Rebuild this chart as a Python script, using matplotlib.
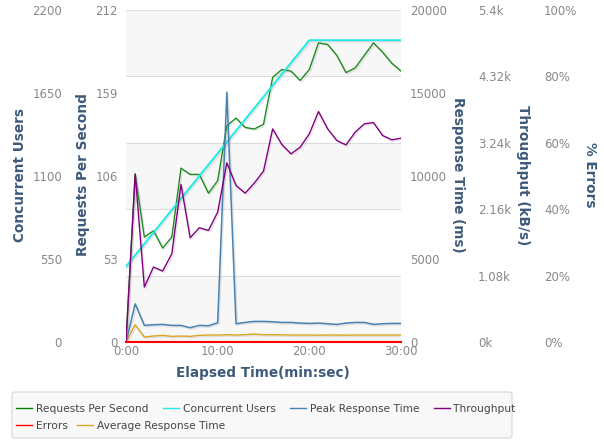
#!/usr/bin/env python3
import matplotlib
matplotlib.use("Agg")
import matplotlib.pyplot as plt
import matplotlib.patheffects as pe
from matplotlib.lines import Line2D
from matplotlib.patches import FancyBboxPatch

# elapsed minutes
minutes = list(range(31))

requests_per_second = [0, 107, 67, 71, 60, 67, 111, 107, 107, 95, 103, 138, 143, 137, 136, 139,
                       169, 174, 173, 167, 174, 191, 190, 183, 172, 175, 183, 191, 185, 178, 173]
concurrent_users = [500, 575, 650, 725, 800, 875, 950, 1025, 1100, 1175, 1250, 1325, 1400, 1475,
                    1550, 1625, 1700, 1775, 1850, 1925, 2000, 2000, 2000, 2000, 2000, 2000, 2000,
                    2000, 2000, 2000, 2000]
peak_response_ms = [0, 2300, 1000, 1040, 1060, 1000, 1000, 860, 1000, 980, 1160, 15050, 1100,
                    1180, 1240, 1240, 1220, 1180, 1180, 1140, 1120, 1140, 1100, 1060, 1140, 1180,
                    1180, 1060, 1100, 1120, 1120]
throughput_kbs = [0, 2735, 894, 1219, 1154, 1435, 2562, 1695, 1858, 1814, 2112, 2914, 2546, 2421,
                  2584, 2779, 3466, 3212, 3060, 3168, 3385, 3748, 3466, 3277, 3206, 3412, 3548,
                  3569, 3358, 3288, 3315]
errors_pct = [0] * 31
avg_response_ms = [0, 1040, 300, 360, 400, 340, 360, 340, 400, 420, 420, 440, 420, 440, 480, 440,
                   440, 430, 420, 420, 420, 410, 420, 420, 410, 420, 420, 420, 420, 420, 420]

rps_ticks = [0, 53, 106, 159, 212]
users_ticks = [0, 550, 1100, 1650, 2200]
rt_ticks = [0, 5000, 10000, 15000, 20000]
tp_ticks = [0, 1080, 2160, 3240, 4320, 5400]
tp_labels = ["0k", "1.08k", "2.16k", "3.24k", "4.32k", "5.4k"]
err_ticks = [0, 20, 40, 60, 80, 100]
x_ticks = [0, 10, 20, 30]
x_labels = ["0:00", "10:00", "20:00", "30:00"]

TICK_C = "#888888"
LABEL_C = "#3d5a7a"
PX = 72 / 100  # points per pixel
plt.rcParams["font.family"] = "DejaVu Sans"

fig = plt.figure(figsize=(6.04, 4.40), dpi=100)
L, R, B, T = 126 / 604, 401 / 604, 1 - 342 / 440, 1 - 10 / 440
ax = fig.add_axes([L, B, R - L, T - B])

ax_users = ax.twinx()
ax_rt = ax.twinx()
ax_tp = ax.twinx()
ax_err = ax.twinx()

shadow = [pe.SimpleLineShadow(offset=(1, -1), shadow_color="gray", alpha=0.2), pe.Normal()]

# background bands from the fifth-grid
ax.set_facecolor("white")
for i in range(5):
    if i % 2 == 0:
        ax.axhspan(i * 212 / 5, (i + 1) * 212 / 5, color="#f7f7f7", zorder=0, lw=0)
    ax.axhline((i + 1) * 212 / 5, color="#dddddd", lw=0.8, zorder=0.5)

for a in [ax, ax_users, ax_rt, ax_tp, ax_err]:
    for s in a.spines.values():
        s.set_visible(False)
    a.tick_params(length=0, colors=TICK_C, labelsize=8.5)

ax.plot(minutes, requests_per_second, color="#1f8a1f", lw=1.0, path_effects=shadow, zorder=5)
ax_rt.plot(minutes, avg_response_ms, color="#daa520", lw=1.0, path_effects=shadow)
ax_rt.plot(minutes, peak_response_ms, color="#4682b4", lw=1.1, path_effects=shadow)
ax_tp.plot(minutes, throughput_kbs, color="purple", lw=1.0, path_effects=shadow)
ax_users.plot(minutes, concurrent_users, color="#22e8e8", lw=1.4, path_effects=shadow)
ax_err.plot(minutes, errors_pct, color="red", lw=1.5, clip_on=False, zorder=6)

ax.set_xlim(0, 30)
ax.set_ylim(0, 212)
ax.set_yticks(rps_ticks)
ax.set_xticks(x_ticks)
ax.set_xticklabels(x_labels)
ax.tick_params(axis="x", pad=2)
ax.tick_params(axis="y", pad=8 * PX)

ax_users.set_ylim(0, 2200)
ax_users.yaxis.set_ticks_position("left")
ax_users.spines["left"].set_position(("outward", 56 * PX))
ax_users.set_yticks(users_ticks)
ax_users.tick_params(pad=8 * PX)

ax_rt.set_ylim(0, 20000)
ax_rt.set_yticks(rt_ticks)
ax_rt.tick_params(pad=9 * PX)

ax_tp.set_ylim(0, 5400)
ax_tp.spines["right"].set_position(("outward", 68 * PX))
ax_tp.set_yticks(tp_ticks)
ax_tp.set_yticklabels(tp_labels)
ax_tp.tick_params(pad=9 * PX)

ax_err.set_ylim(0, 100)
ax_err.spines["right"].set_position(("outward", 134 * PX))
ax_err.set_yticks(err_ticks)
ax_err.set_yticklabels([f"{v}%" for v in err_ticks])
ax_err.tick_params(pad=9 * PX)

lab = dict(color=LABEL_C, fontsize=9.8, fontweight="bold", ha="center", va="center")
fig.text(20 / 604, 1 - 175 / 440, "Concurrent Users", rotation=90, **lab)
fig.text(83 / 604, 1 - 175 / 440, "Requests Per Second", rotation=90, **lab)
fig.text(458 / 604, 1 - 175 / 440, "Response Time (ms)", rotation=270, **lab)
fig.text(523 / 604, 1 - 175 / 440, "Throughput (kB/s)", rotation=270, **lab)
fig.text(590 / 604, 1 - 175 / 440, "% Errors", rotation=270, **lab)
fig.text(263 / 604, 1 - 373 / 440, "Elapsed Time(min:sec)", **lab)

# legend box
box = FancyBboxPatch((12 / 604, 2 / 440), 500 / 604, 46 / 440, transform=fig.transFigure,
                     boxstyle="round,pad=0,rounding_size=0.006", facecolor="#f8f8f8",
                     edgecolor="#dddddd", lw=1)
fig.patches.append(box)


def handle(c):
    return Line2D([], [], color=c, lw=1.0)


row1 = [("Requests Per Second", "green"), ("Concurrent Users", "#22e8e8"),
        ("Peak Response Time", "#4682b4"), ("Throughput", "purple")]
row2 = [("Errors", "red"), ("Average Response Time", "#daa520")]
for row, y, cs in [(row1, 1 - 409 / 440, 1.35), (row2, 1 - 426 / 440, 0.9)]:
    leg = fig.legend([handle(c) for _, c in row], [n for n, _ in row], ncol=len(row),
                     loc="center left", bbox_to_anchor=(16 / 604, y), frameon=False,
                     fontsize=7.7, handlelength=1.5, handletextpad=0.35, columnspacing=cs,
                     borderaxespad=0, borderpad=0)
    for t in leg.get_texts():
        t.set_color("#444444")

fig.savefig("out.png", dpi=100)
